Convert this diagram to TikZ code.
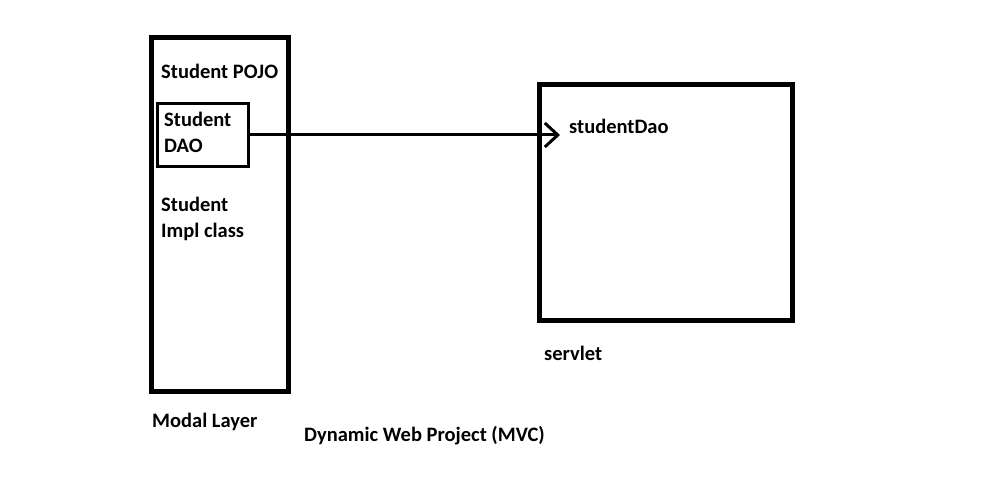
\documentclass[tikz,border=0pt]{standalone}
\usepackage{fontspec}
\setmainfont{Carlito}
\usetikzlibrary{arrows.meta}
\begin{document}
\begin{tikzpicture}[x=1pt,y=-1pt,
  lbl/.style={anchor=base west,inner sep=0pt,font=\fontsize{20.5}{26}\selectfont\bfseries},
  thickbox/.style={draw,line width=5pt},
  thinbox/.style={draw,line width=3pt}]
\useasboundingbox (0,0) rectangle (1002,502);
\draw[thickbox] (151,38) rectangle (288,392);
\draw[thinbox] (157.5,103.5) rectangle (248,167);
\draw[thickbox] (539,85) rectangle (792,321);
\coordinate (daoR) at (248,135);
\coordinate (svIn) at (560,135);
\draw[line width=3pt,-{Straight Barb[length=13pt,width=24pt,line width=3pt]}] (daoR) -- (svIn);
\node[lbl] (pojo) at (161,79) {Student POJO};
\node[lbl] (dao1) at (164,127) {Student};
\node[lbl] (dao2) at (164,153) {DAO};
\node[lbl] (impl1) at (161,212) {Student};
\node[lbl] (impl2) at (161,238) {Impl class};
\node[lbl] (sdao) at (569,134) {studentDao};
\node[lbl] (servlet) at (544,361) {servlet};
\node[lbl] (modal) at (152,428) {Modal Layer};
\node[lbl] (dwp) at (304,442) {Dynamic Web Project (MVC)};
\end{tikzpicture}
\end{document}
